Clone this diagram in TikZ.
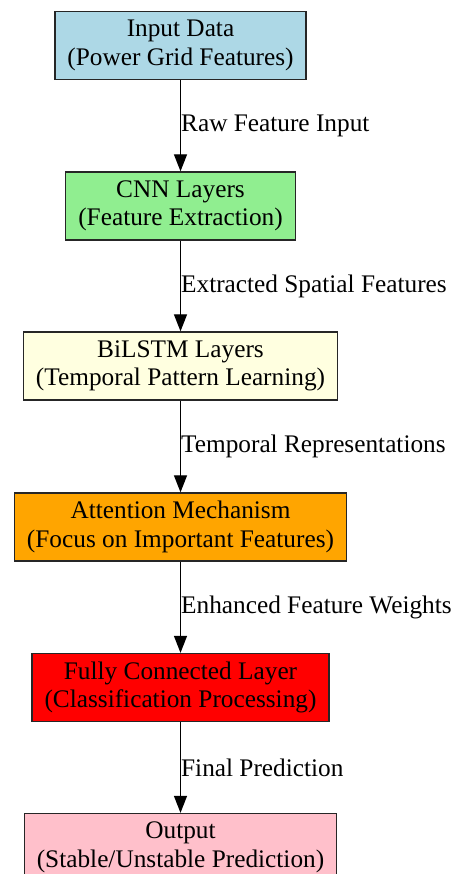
\documentclass[tikz,border=0pt]{standalone}
\usepackage{fontspec}
\setmainfont{Liberation Serif}
\usetikzlibrary{arrows.meta}
\definecolor{inblue}{RGB}{173,216,230}
\definecolor{cnngreen}{RGB}{144,238,144}
\definecolor{lstmyellow}{RGB}{255,255,224}
\definecolor{attorange}{RGB}{255,165,0}
\definecolor{fcred}{RGB}{255,0,0}
\definecolor{outpink}{RGB}{255,192,203}
\tikzset{
  stage/.style={draw=black!85, line width=1.3pt, rectangle, align=center,
    minimum height=68pt, inner xsep=12.5pt, inner ysep=0pt,
    font=\fontsize{25.3pt}{28.5pt}\selectfont},
  flow/.style={line width=1.3pt, -{Triangle[length=17pt,width=13pt]}},
  tag/.style={anchor=west, inner xsep=0pt, font=\fontsize{25.3pt}{28.5pt}\selectfont}
}
\begin{document}
\begin{tikzpicture}[x=1pt,y=1pt]
  \useasboundingbox (0,0) rectangle (451,874);
  \clip (0,0) rectangle (451,874);
  \fill[white] (0,0) rectangle (451,874);

  \node[stage, fill=inblue] (input) at (180.5,828.5) {Input Data\\(Power Grid Features)};
  \node[stage, fill=cnngreen] (cnn) at (180.5,668) {CNN Layers\\(Feature Extraction)};
  \node[stage, fill=lstmyellow] (lstm) at (180.5,508) {BiLSTM Layers\\(Temporal Pattern Learning)};
  \node[stage, fill=attorange] (att) at (180.5,347) {Attention Mechanism\\(Focus on Important Features)};
  \node[stage, fill=fcred] (fc) at (180.5,186.5) {Fully Connected Layer\\(Classification Processing)};
  \node[stage, fill=outpink] (out) at (180.5,26.5) {Output\\(Stable/Unstable Prediction)};

  \draw[flow] (input) -- (cnn) node[tag, midway] {Raw Feature Input};
  \draw[flow] (cnn) -- (lstm) node[tag, midway] {Extracted Spatial Features};
  \draw[flow] (lstm) -- (att) node[tag, midway] {Temporal Representations};
  \draw[flow] (att) -- (fc) node[tag, midway] {Enhanced Feature Weights};
  \draw[flow] (fc) -- (out) node[tag, midway] {Final Prediction};
\end{tikzpicture}
\end{document}
